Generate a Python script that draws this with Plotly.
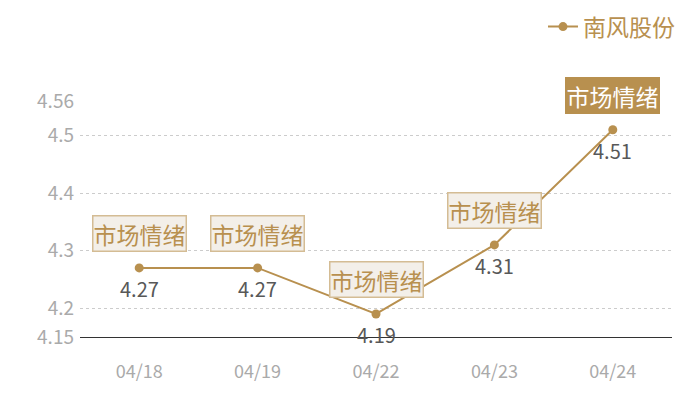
import plotly.graph_objects as go

dates = ["04/18", "04/19", "04/22", "04/23", "04/24"]
prices = [4.27, 4.27, 4.19, 4.31, 4.51]
tags = ["市场情绪", "市场情绪", "市场情绪", "市场情绪", "市场情绪"]
highlight = [False, False, False, False, True]
series_name = "南风股份"
y_ticks = [4.15, 4.2, 4.3, 4.4, 4.5, 4.56]

GOLD = "#B8904F"
FONT = "Noto Sans CJK SC"

fig = go.Figure()
fig.add_trace(go.Scatter(
    x=dates, y=prices, mode="lines+markers", name=series_name,
    line=dict(color=GOLD, width=2),
    marker=dict(color=GOLD, size=9),
))

annotations = []
for d, p, t, h in zip(dates, prices, tags, highlight):
    annotations.append(dict(
        x=d, y=p, xref="x", yref="y", text=t, showarrow=False,
        yshift=34,
        font=dict(family=FONT, size=23, color="#ffffff" if h else GOLD),
        bgcolor=GOLD if h else "#F3EFE9",
        bordercolor=GOLD if h else "#D4BC94",
        borderwidth=1.5, borderpad=0,
    ))
    annotations.append(dict(
        x=d, y=p, xref="x", yref="y", text=f"{p:.2f}", showarrow=False,
        yshift=-21,
        font=dict(family=FONT, size=20, color="#585858"),
    ))

fig.update_layout(
    width=700, height=400,
    margin=dict(l=72, r=36, t=93, b=71, autoexpand=False),
    paper_bgcolor="white", plot_bgcolor="white",
    font=dict(family=FONT),
    showlegend=True,
    legend=dict(x=1.0135, xanchor="right", y=1.315, yanchor="middle",
                font=dict(family=FONT, size=23, color=GOLD),
                bgcolor="rgba(0,0,0,0)", itemwidth=30),
    annotations=annotations,
    xaxis=dict(
        type="category", range=[-0.5, 4.5],
        showgrid=False, showline=True, linecolor="#333333", linewidth=1,
        ticks="", tickfont=dict(family=FONT, size=18, color="#AAAAAA"),
        ticklabelstandoff=18, zeroline=False, fixedrange=True,
    ),
    yaxis=dict(
        range=[4.15, 4.56], tickvals=y_ticks,
        ticktext=[f"{v:g}" for v in y_ticks],
        showgrid=True, gridcolor="#CCCCCC", griddash="dot", gridwidth=1,
        showline=False, zeroline=False, ticks="",
        tickfont=dict(family=FONT, size=19, color="#AAAAAA"),
        ticklabelstandoff=5,
    ),
)

fig.write_html("out.html")
